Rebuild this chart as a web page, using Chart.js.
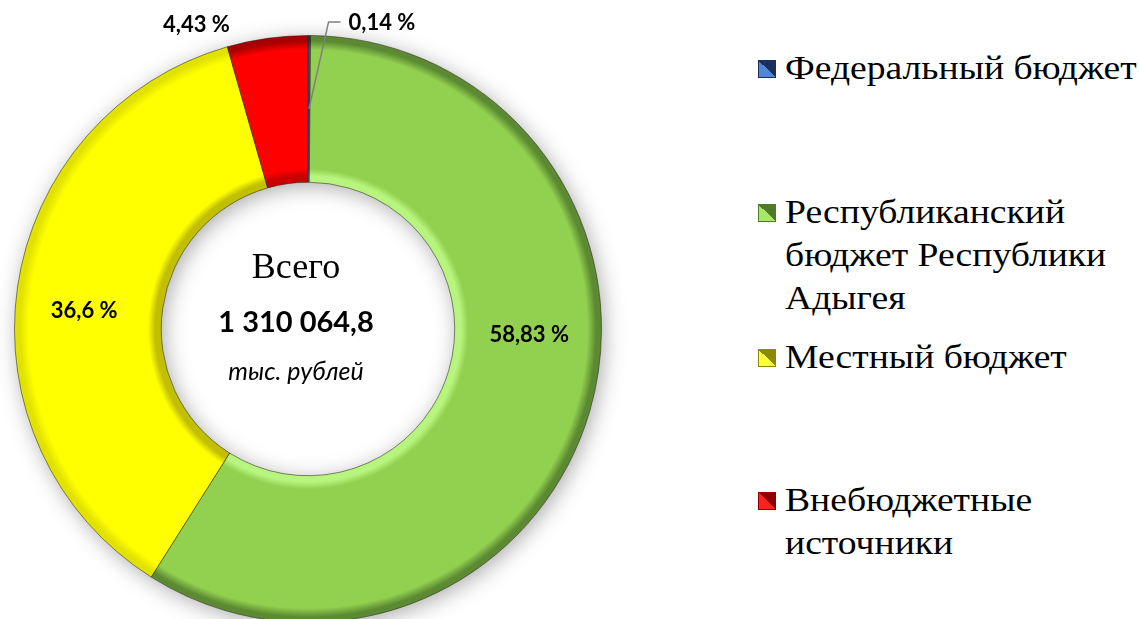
<!DOCTYPE html>
<html lang="ru">
<head>
<meta charset="utf-8">
<script src="https://cdn.jsdelivr.net/npm/chart.js@4.4.1/dist/chart.umd.min.js"></script>
<style>
  html, body { margin: 0; padding: 0; background: #fff; width: 1139px; height: 619px; overflow: hidden; }
  #wrap { position: absolute; left: 0; top: 0; width: 660px; height: 660px; }
  .item { position: absolute; left: 785px; color: #000;
          font-family: "Liberation Serif", "Times New Roman", serif; font-size: 33px; line-height: 43px; }
  .txt { display: inline-block; width: 317px; transform: scaleX(1.14); transform-origin: 0 0; }
  .sw { position: absolute; left: -27px; top: 13px; width: 18px; height: 18px; box-sizing: border-box; }
</style>
</head>
<body>
<div id="wrap"><canvas id="donut"></canvas></div>
<div id="legend"></div>
<script>
// data
const categories = [
    "Федеральный бюджет",
    "Республиканский бюджет Республики Адыгея",
    "Местный бюджет",
    "Внебюджетные источники",
];
const shares = [0.14, 58.83, 36.6, 4.43];
const shareLabels = ["0,14 %", "58,83 %", "36,6 %", "4,43 %"];
const centerLines = ["Всего", "1 310 064,8", "тыс. рублей"];

// styles
const baseColors  = ["#2f5597", "#92d050", "#ffff00", "#ff0000"];
const innerColors = ["#5b8fd9", "#b8f57f", "#c2be00", "#c80000"];
const outerColors = ["#1b315a", "#5c8a32", "#e2e200", "#a80000"];
const swatchDark  = ["#1b2f5c", "#4f7a28", "#8c8a00", "#8c0000"];
const swatchLight = ["#4f86d8", "#a6e86a", "#ffff33", "#ff2020"];
// label nudges from slice centroid (px)
const labelNudge = [[73, -86], [10, -56], [-6, 13], [-81, -86]];
const legendTops = [47, 191, 336, 479];

function ringFill(ctx) {
    const i = ctx.dataIndex;
    const area = ctx.chart.chartArea;
    if (!area) return baseColors[i];
    const cx = (area.left + area.right) / 2;
    const cy = (area.top + area.bottom) / 2;
    const outer = Math.min(area.width, area.height) / 2;
    const inner = outer * 0.5;
    const g = ctx.chart.ctx.createRadialGradient(cx, cy, inner, cx, cy, outer);
    g.addColorStop(0, innerColors[i]);
    g.addColorStop(0.04, innerColors[i]);
    g.addColorStop(0.09, baseColors[i]);
    g.addColorStop(0.9, baseColors[i]);
    g.addColorStop(0.96, outerColors[i]);
    g.addColorStop(1, outerColors[i]);
    return g;
}

const ringShadow = {
    id: "ringShadow",
    beforeDatasetsDraw(chart) {
        const arc = chart.getDatasetMeta(0).data[0];
        if (!arc) return;
        const { x, y, innerRadius, outerRadius } = arc.getProps(["x", "y", "innerRadius", "outerRadius"], true);
        const c = chart.ctx;
        c.save();
        c.shadowColor = "rgba(0,0,0,0.35)";
        c.shadowBlur = 22;
        c.shadowOffsetX = 3;
        c.shadowOffsetY = 4;
        c.fillStyle = "#888";
        c.beginPath();
        c.arc(x, y, outerRadius - 1, 0, Math.PI * 2);
        c.arc(x, y, innerRadius + 1, 0, Math.PI * 2, true);
        c.fill();
        c.restore();
    },
};

const sliceLabels = {
    id: "sliceLabels",
    afterDatasetsDraw(chart) {
        const c = chart.ctx;
        const arcs = chart.getDatasetMeta(0).data;
        c.save();
        c.font = "bold 22px Lato, 'Open Sans', sans-serif";
        c.fillStyle = "#000";
        c.textAlign = "center";
        c.textBaseline = "middle";
        arcs.forEach((arc, i) => {
            const p = arc.tooltipPosition();
            const lx = p.x + labelNudge[i][0];
            const ly = p.y + labelNudge[i][1];
            if (i === 0) {
                const w = c.measureText(shareLabels[i]).width;
                c.strokeStyle = "#7f7f7f";
                c.lineWidth = 1.5;
                c.beginPath();
                c.moveTo(p.x, p.y);
                c.lineTo(lx - w / 2 - 20, ly - 1);
                c.lineTo(lx - w / 2 - 8, ly - 1);
                c.stroke();
            }
            c.fillText(shareLabels[i], lx, ly);
        });
        c.restore();
    },
    afterDraw(chart) {
        const arc = chart.getDatasetMeta(0).data[0];
        if (!arc) return;
        const c = chart.ctx;
        const cx = arc.x - 12;
        const cy = arc.y;
        c.save();
        c.fillStyle = "#000";
        c.textAlign = "center";
        c.textBaseline = "alphabetic";
        c.font = "36px 'Liberation Serif', 'Times New Roman', serif";
        c.fillText(centerLines[0], cx, cy - 51);
        c.font = "bold 29px Lato, sans-serif";
        c.fillText(centerLines[1], cx, cy + 3);
        c.font = "italic 25px Lato, sans-serif";
        c.fillText(centerLines[2], cx, cy + 51);
        c.restore();
    },
};

const chart = new Chart(document.getElementById("donut"), {
    type: "doughnut",
    data: {
        labels: categories,
        datasets: [{
            data: shares,
            backgroundColor: ringFill,
            borderColor: "rgba(40,40,20,0.55)",
            borderWidth: 1,
        }],
    },
    options: {
        responsive: true, maintainAspectRatio: false,
        animation: false,
        cutout: "50%",
        layout: { padding: { left: 14, top: 35, right: 58, bottom: 37 } },
        plugins: { legend: { display: false }, tooltip: { enabled: false } },
    },
    plugins: [ringShadow, sliceLabels],
});

// legend built from the same arrays
const legend = document.getElementById("legend");
categories.forEach((name, i) => {
    const item = document.createElement("div");
    item.className = "item";
    item.style.top = legendTops[i] + "px";
    const sw = document.createElement("span");
    sw.className = "sw";
    sw.style.background = `linear-gradient(to bottom left, ${swatchDark[i]} 50%, ${swatchLight[i]} 50%)`;
    sw.style.border = `1px solid ${swatchDark[i]}`;
    item.appendChild(sw);
    const txt = document.createElement("span");
    txt.className = "txt";
    txt.textContent = name;
    item.appendChild(txt);
    legend.appendChild(item);
});
</script>
</body>
</html>
